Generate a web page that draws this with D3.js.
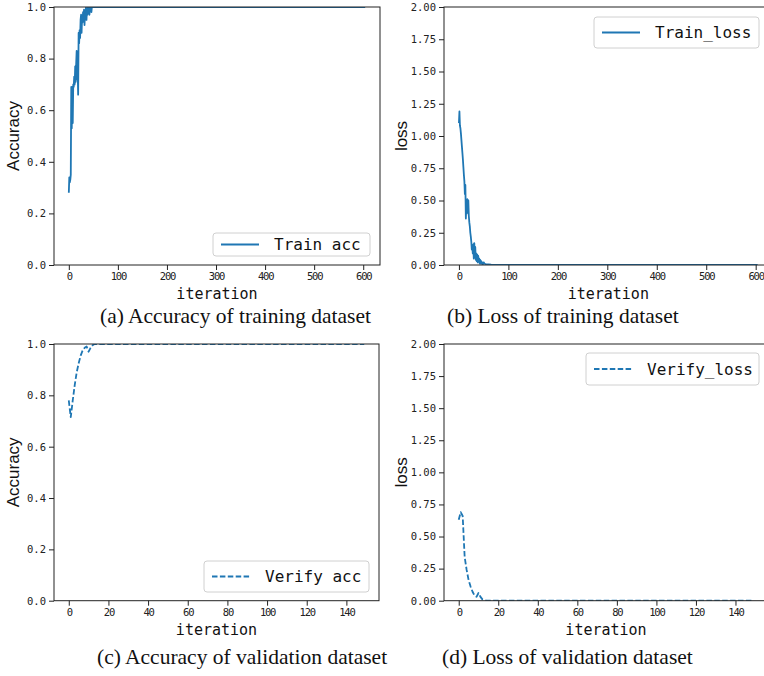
<!DOCTYPE html>
<html>
<head>
<meta charset="utf-8">
<script src="https://cdn.jsdelivr.net/npm/d3@7"></script>
<style>
  body { margin: 0; background: #fff; }
  svg { display: block; }
</style>
</head>
<body>
<svg id="fig" width="764" height="676"></svg>
<script>
// training accuracy (iteration, value)
var trainAccIter = [0, 1, 2, 3, 4, 5, 6, 7, 8, 9, 10, 11, 12, 13, 14, 15, 16, 17, 18, 19,
  20, 21, 22, 23, 24, 25, 26, 27, 28, 29, 30, 31, 32, 33, 34, 35, 36, 37, 38, 39,
  40, 41, 42, 43, 44, 45, 46, 47, 48, 50, 604];
var trainAcc = [0.28, 0.34, 0.32, 0.33, 0.35, 0.69, 0.53, 0.69, 0.55, 0.70, 0.69, 0.73, 0.70, 0.77, 0.71, 0.78, 0.83, 0.72, 0.76, 0.66,
  0.90, 0.86, 0.91, 0.88, 0.95, 0.97, 0.90, 0.96, 0.94, 0.98, 0.95, 0.99, 0.93, 0.98, 0.96, 1.00, 0.95, 0.99, 0.97, 1.00,
  0.98, 1.00, 0.97, 1.00, 0.99, 1.00, 0.98, 1.00, 1.00, 1.00, 1.00];

// training loss, panel (b)
var trainLossIter = [0, 1, 2, 3, 4, 5, 6, 7, 8, 9, 10, 11, 12, 13, 14, 15, 16, 17, 18, 19,
  20, 21, 22, 23, 24, 25, 26, 27, 28, 29, 30, 31, 32, 33, 34, 35, 36, 37, 38, 39,
  40, 41, 42, 43, 44, 45, 46, 47, 48, 50, 52, 55, 60, 65, 70, 604];
var trainLoss = [1.10, 1.19, 1.08, 1.06, 1.02, 0.97, 0.92, 0.87, 0.82, 0.76, 0.70, 0.65, 0.55, 0.62, 0.36, 0.48, 0.40, 0.51, 0.45, 0.50,
  0.38, 0.33, 0.30, 0.25, 0.22, 0.18, 0.12, 0.15, 0.09, 0.16, 0.05, 0.17, 0.06, 0.14, 0.04, 0.09, 0.03, 0.08, 0.02, 0.07,
  0.03, 0.05, 0.01, 0.04, 0.01, 0.03, 0.01, 0.02, 0.00, 0.02, 0.01, 0.005, 0.005, 0.002, 0.0, 0.0];

// validation accuracy, panel (c)
var verifyAccIter = [0, 1, 2, 3, 4, 5, 6, 7, 8, 9, 10, 11, 12, 13, 14, 149];
var verifyAcc = [0.78, 0.715, 0.78, 0.84, 0.89, 0.925, 0.955, 0.975, 0.985, 0.99, 0.97, 0.985, 0.995, 1.0, 1.0, 1.0];

// validation loss, panel (d)
var verifyLossIter = [0, 1, 2, 3, 4, 5, 6, 7, 8, 9, 10, 11, 12, 13, 14, 149];
var verifyLoss = [0.63, 0.69, 0.66, 0.34, 0.24, 0.16, 0.11, 0.07, 0.04, 0.03, 0.06, 0.03, 0.01, 0.005, 0.0, 0.0];

var trainTicks = [0, 100, 200, 300, 400, 500, 600];
var verifyTicks = [0, 20, 40, 60, 80, 100, 120, 140];
var accTicks = [0, 0.2, 0.4, 0.6, 0.8, 1.0];
var lossTicks = [0, 0.25, 0.5, 0.75, 1.0, 1.25, 1.5, 1.75, 2.0];

var captions = ["(a) Accuracy of training dataset", "(b) Loss of training dataset",
  "(c) Accuracy of validation dataset", "(d) Loss of validation dataset"];

var blue = "#1f77b4";
var mono = "'DejaVu Sans Mono', monospace";

var svg = d3.select("#fig");
svg.append("rect").attr("width", 764).attr("height", 676).attr("fill", "#fff");

var panels = [
  { id: "a", left: 54, right: 380, top: 7, bottom: 265, xDomain: [-30.2, 634.2], xTicks: trainTicks,
    yMax: 1, yTicks: accTicks, yFmt: ".1f", ylabel: "Accuracy", ylabelX: 19,
    xs: trainAccIter, ys: trainAcc, dashed: false, name: "Train acc",
    legend: { x: 213, y: 233, w: 157, h: 23 }, caption: captions[0], capX: 100, capY: 323 },
  { id: "b", left: 444, right: 772.6, top: 7, bottom: 265, xDomain: [-30.2, 634.2], xTicks: trainTicks,
    yMax: 2, yTicks: lossTicks, yFmt: ".2f", ylabel: "loss", ylabelX: 407,
    xs: trainLossIter, ys: trainLoss, dashed: false, name: "Train_loss",
    legend: { x: 594, y: 17, w: 165, h: 31 }, caption: captions[1], capX: 447, capY: 323 },
  { id: "c", left: 54, right: 379, top: 344, bottom: 600.7, xDomain: [-7.45, 156.45], xTicks: verifyTicks,
    yMax: 1, yTicks: accTicks, yFmt: ".1f", ylabel: "Accuracy", ylabelX: 19,
    xs: verifyAccIter, ys: verifyAcc, dashed: true, name: "Verify acc",
    legend: { x: 204, y: 561, w: 165, h: 31 }, caption: captions[2], capX: 97, capY: 664 },
  { id: "d", left: 444, right: 768, top: 344, bottom: 600.7, xDomain: [-7.45, 156.45], xTicks: verifyTicks,
    yMax: 2, yTicks: lossTicks, yFmt: ".2f", ylabel: "loss", ylabelX: 407,
    xs: verifyLossIter, ys: verifyLoss, dashed: true, name: "Verify_loss",
    legend: { x: 586, y: 353, w: 173, h: 32 }, caption: captions[3], capX: 442, capY: 664 }
];

function drawPanel(p) {
  var x = d3.scaleLinear().domain(p.xDomain).range([p.left, p.right]);
  var y = d3.scaleLinear().domain([0, p.yMax]).range([p.bottom, p.top]);
  var g = svg.append("g");

  g.append("clipPath").attr("id", "clip-" + p.id)
    .append("rect")
    .attr("x", p.left).attr("y", p.top)
    .attr("width", p.right - p.left).attr("height", p.bottom - p.top);

  var pts = p.xs.map(function (d, i) { return [d, p.ys[i]]; });
  var line = d3.line()
    .x(function (d) { return x(d[0]); })
    .y(function (d) { return y(d[1]); });

  g.append("path")
    .datum(pts)
    .attr("clip-path", "url(#clip-" + p.id + ")")
    .attr("d", line)
    .attr("fill", "none")
    .attr("stroke", blue)
    .attr("stroke-width", 1.8)
    .attr("stroke-linejoin", "round")
    .attr("stroke-dasharray", p.dashed ? "5.5,2.4" : null);

  // axes
  var xa = g.append("g")
    .attr("transform", "translate(0," + p.bottom + ")")
    .call(d3.axisBottom(x).tickValues(p.xTicks).tickSize(5).tickPadding(3).tickFormat(d3.format("d")));
  xa.select(".domain").remove();
  xa.selectAll("text")
    .attr("font-family", mono).attr("font-size", 10.5)
    .attr("letter-spacing", -1.2).attr("fill", "#222");

  var ya = g.append("g")
    .attr("transform", "translate(" + p.left + ",0)")
    .call(d3.axisLeft(y).tickValues(p.yTicks).tickSize(5).tickPadding(3).tickFormat(d3.format(p.yFmt)));
  ya.select(".domain").remove();
  ya.selectAll("text")
    .attr("font-family", mono).attr("font-size", 10.5).attr("fill", "#222");
  g.selectAll(".tick line").attr("stroke", "#222");

  // frame
  g.append("rect")
    .attr("x", p.left).attr("y", p.top)
    .attr("width", p.right - p.left).attr("height", p.bottom - p.top)
    .attr("fill", "none").attr("stroke", "#222").attr("stroke-width", 1);

  // labels
  g.append("text")
    .attr("x", (p.left + p.right) / 2).attr("y", p.bottom + 34)
    .attr("text-anchor", "middle")
    .attr("font-family", mono).attr("font-size", 15).attr("fill", "#111")
    .text("iteration");

  g.append("text")
    .attr("transform", "translate(" + p.ylabelX + "," + ((p.top + p.bottom) / 2) + ") rotate(-90)")
    .attr("text-anchor", "middle")
    .attr("font-family", "'Liberation Sans', Arial, sans-serif").attr("font-size", 17).attr("fill", "#111")
    .text(p.ylabel);

  // legend
  var lg = p.legend;
  g.append("rect")
    .attr("x", lg.x).attr("y", lg.y).attr("width", lg.w).attr("height", lg.h)
    .attr("rx", 3)
    .attr("fill", "#fff").attr("fill-opacity", 0.8)
    .attr("stroke", "#d0d0d0").attr("stroke-width", 1);
  var ly = lg.y + lg.h / 2;
  g.append("line")
    .attr("x1", lg.x + 8).attr("x2", lg.x + 46)
    .attr("y1", ly).attr("y2", ly)
    .attr("stroke", blue).attr("stroke-width", 1.8)
    .attr("stroke-dasharray", p.dashed ? "5.5,2.4" : null);
  g.append("text")
    .attr("x", lg.x + 61).attr("y", ly + 5.5)
    .attr("font-family", mono).attr("font-size", 16).attr("fill", "#111")
    .text(p.name);

  // caption
  svg.append("text")
    .attr("x", p.capX).attr("y", p.capY)
    .attr("font-family", "'Liberation Serif', 'Times New Roman', serif")
    .attr("font-size", 21.5).attr("fill", "#111")
    .text(p.caption);
}

panels.forEach(drawPanel);
</script>
</body>
</html>
